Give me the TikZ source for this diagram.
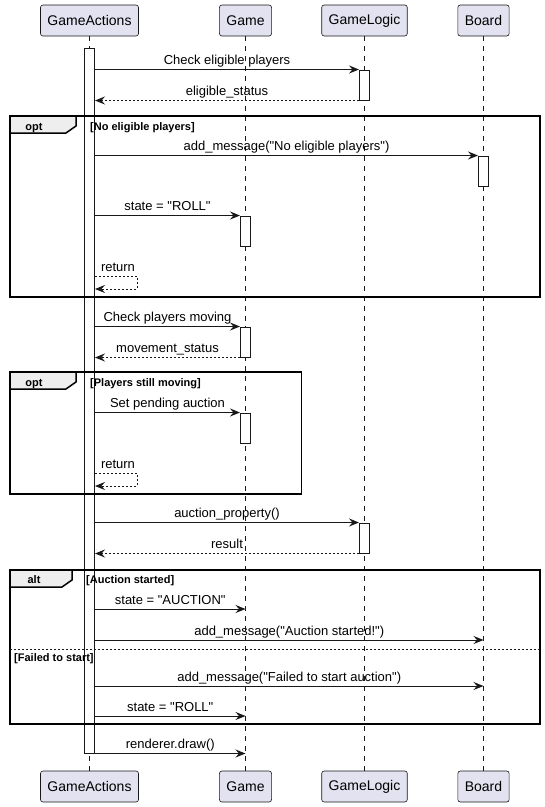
\documentclass[tikz,border=0pt]{standalone}
\usepackage{fontspec}
\setmainfont{Liberation Sans}[Ligatures=TeXOff]
\usetikzlibrary{arrows, arrows.meta}
\definecolor{partfill}{HTML}{E2E2F0}
\definecolor{lineclr}{HTML}{181818}
\definecolor{tabfill}{HTML}{EEEEEE}

\begin{document}
\begin{tikzpicture}[x=1pt, y=-1pt,
  >={Stealth[length=10pt,width=8pt,inset=3.5pt]},
  part/.style={draw=lineclr, line width=0.6pt, fill=partfill, rounded corners=2.5pt, minimum height=31pt, inner xsep=7pt, inner ysep=0pt, font=\fontsize{14}{16}\selectfont},
  life/.style={draw=lineclr, line width=0.5pt, dash pattern=on 5pt off 5pt},
  act/.style={draw=lineclr, fill=white, line width=1pt, minimum width=10pt, minimum height=30pt, inner sep=0pt},
  msg/.style={->, draw=lineclr, line width=1pt},
  ret/.style={->, draw=lineclr, line width=1pt, dash pattern=on 2pt off 2pt},
  lbl/.style={midway, anchor=base, yshift=5pt, inner sep=0pt, font=\fontsize{13}{15}\selectfont},
  frm/.style={draw=black, line width=1.5pt},
  tab/.style={draw=black, line width=1.5pt, fill=tabfill},
  grp/.style={anchor=base west, inner sep=0pt, font=\fontsize{11}{13}\selectfont\bfseries}]
\useasboundingbox (0,0) rectangle (545,807);

\node[part] (gaT) at (89.5,20.5) {GameActions};
\node[part] (gmT) at (245.5,20.5) {Game};
\node[part] (glT) at (364.5,20.5) {GameLogic};
\node[part] (bdT) at (483.5,20.5) {Board};
\node[part] (gaB) at (89.5,786.5) {GameActions};
\node[part] (gmB) at (245.5,786.5) {Game};
\node[part] (glB) at (364.5,786.5) {GameLogic};
\node[part] (bdB) at (483.5,786.5) {Board};
\draw[life] (gaT) -- (gaB);
\draw[life] (gmT) -- (gmB);
\draw[life] (glT) -- (glB);
\draw[life] (bdT) -- (bdB);

\node[act, minimum height=705pt] (gaAct) at (89.5,400.5) {};

\draw[frm] (10,116) rectangle (540,297);
\draw[tab] (10,116) -- (76,116) -- (76,126) -- (66,133) -- (10,133) -- cycle;
\node[grp, anchor=base] at (34,130) {opt};
\node[grp] at (90,130) {[No eligible players]};

\draw[frm] (10,372) rectangle (301.5,494);
\draw[tab] (10,372) -- (76,372) -- (76,382) -- (66,389) -- (10,389) -- cycle;
\node[grp, anchor=base] at (34,386) {opt};
\node[grp] at (90,386) {[Players still moving]};

\draw[frm] (10,570) rectangle (540,724);
\draw[tab] (10,570) -- (72,570) -- (72,580) -- (62,587) -- (10,587) -- cycle;
\node[grp, anchor=base] at (34,583.5) {alt};
\node[grp] at (86,583.5) {[Auction started]};
\draw[lineclr, line width=1pt, dash pattern=on 2pt off 2pt] (10,649) -- (540,649);
\node[grp] at (14,661) {[Failed to start]};

\node[act] (glA1) at (364.5,85) {};
\node[act] (bdA1) at (483.5,171) {};
\node[act] (gmA1) at (245.5,231) {};
\node[act] (gmA2) at (245.5,342) {};
\node[act] (gmA3) at (245.5,428) {};
\node[act] (glA2) at (364.5,538) {};

\draw[msg] (gaAct.east |- glA1.north) -- (glA1.north west) node[lbl] {Check eligible players};
\draw[ret] (glA1.south west) -- (gaAct.east |- glA1.south) node[lbl] {eligible\_status};
\draw[msg] (gaAct.east |- bdA1.north) -- (bdA1.north west) node[lbl] {add\_message("No eligible players")};
\draw[msg] (gaAct.east |- gmA1.north) -- (gmA1.north west) node[lbl] {state = "ROLL"};
\draw[ret] (gaAct.east |- 0,276) -- ++(42,0) node[lbl, xshift=2pt] {return} -- ++(0,13) -- (gaAct.east |- 0,289);

\draw[msg] (gaAct.east |- gmA2.north) -- (gmA2.north west) node[lbl] {Check players moving};
\draw[ret] (gmA2.south west) -- (gaAct.east |- gmA2.south) node[lbl] {movement\_status};
\draw[msg] (gaAct.east |- gmA3.north) -- (gmA3.north west) node[lbl] {Set pending auction};
\draw[ret] (gaAct.east |- 0,473) -- ++(42,0) node[lbl, xshift=2pt] {return} -- ++(0,13) -- (gaAct.east |- 0,486);

\draw[msg] (gaAct.east |- glA2.north) -- (glA2.north west) node[lbl] {auction\_property()};
\draw[ret] (glA2.south west) -- (gaAct.east |- glA2.south) node[lbl] {result};

\draw[msg] (gaAct.east |- 0,609) -- (gmT |- 0,609) node[lbl] {state = "AUCTION"};
\draw[msg] (gaAct.east |- 0,640) -- (bdT |- 0,640) node[lbl] {add\_message("Auction started!")};
\draw[msg] (gaAct.east |- 0,686) -- (bdT |- 0,686) node[lbl] {add\_message("Failed to start auction")};
\draw[msg] (gaAct.east |- 0,716) -- (gmT |- 0,716) node[lbl] {state = "ROLL"};
\draw[msg] (gaAct.south east) -- (gmT |- gaAct.south) node[lbl] {renderer.draw()};
\end{tikzpicture}
\end{document}
